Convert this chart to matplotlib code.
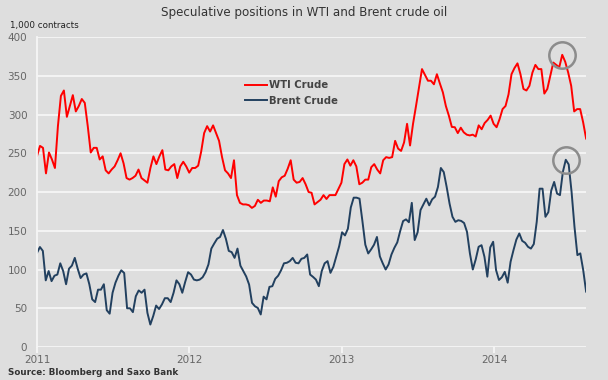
import numpy as np
import pandas as pd
import matplotlib
matplotlib.use("Agg")
import matplotlib.pyplot as plt
import matplotlib.dates as mdates

# weekly speculative positions, 1,000 contracts
wti = [246.6, 259.5, 257, 224, 251, 242, 231, 285, 324, 331, 297, 311, 325, 304, 311, 320,
       315, 285, 251, 257, 257, 242, 246, 228, 224, 229, 233, 241, 250, 237, 218, 216,
       218, 221, 229, 218, 215, 212, 231, 246, 236, 246, 254, 229, 228, 233, 236, 218,
       233, 239, 233, 225, 231, 231, 234, 252, 276, 285, 278, 286,
       276, 266, 245, 228, 224, 218, 241, 196, 186, 184, 184, 183, 179.5, 182, 190, 186,
       189, 189, 188, 206, 194, 214, 219, 221, 230, 241, 216, 212, 213, 218, 210, 200,
       199, 184,
       187, 190, 196, 191, 196, 196, 196, 204, 212, 236, 242, 234, 241, 233, 210, 212,
       216, 216, 232, 236, 229, 224, 241, 245, 244, 245, 266, 256, 253, 264, 288, 260, 288,
       311, 335, 358.6, 351, 343.6, 343.6, 339, 352, 340, 328.6, 311, 298.6, 284, 283.6,
       276, 283, 277, 274, 273, 274, 271.6, 286, 281, 289, 293, 298.6, 288, 283.6, 294,
       307, 311,
       326, 352, 360, 366, 352, 333, 331, 337, 354, 364, 358.6, 358.6, 327, 333, 350, 367,
       364, 361, 377, 368, 354, 337, 304, 307, 307, 290, 269]

brent = [121.6, 129, 124, 86, 98, 85, 92, 93.5, 108, 98, 81, 101, 105, 115, 101, 89,
         93.5, 95, 81, 61.5, 58, 74, 74, 81, 47.5, 43, 70, 83, 92, 99, 95.5, 50,
         50, 45, 65.5, 73, 70, 74, 44, 29, 40, 53.5, 49, 55, 63, 63, 58, 70,
         86, 81, 70, 84, 96.5, 93.5, 87, 86, 87, 90, 96.5, 106.5, 127, 133.6, 139.7, 142,
         151, 139.7, 124, 122.4, 115, 127, 105, 98, 91, 80.6, 57, 52.6, 50.4, 42, 65, 61.5,
         77.6, 78.5, 88, 92, 99, 108, 108.7, 110.8, 115, 108.7, 108, 113.8,
         115, 119.4, 93.5, 90.5, 87, 78.5, 98, 108, 110.8, 95.7, 103.5, 117, 130, 148, 144,
         152.6, 180, 192.7, 192.7, 191.4, 162.5, 132, 120.7, 126, 132, 142, 117, 108, 100,
         106.5, 119.4, 128, 135, 149.6, 162.5, 164.7, 161, 186, 138, 148, 176.7, 184, 191.4,
         182.8, 190.5, 194,
         206.5, 231, 225.7, 206.5, 185, 168, 161.5, 163.6, 162.7, 160, 148.6, 120.8, 100,
         113, 129.3, 131.4, 116.5, 90.8, 128.5, 135.8, 99.3, 86.5, 90, 97, 83,
         110, 125, 138.7, 146.5, 137, 134.5, 129.3, 127, 132.9, 161.5, 204.3, 204.3, 168,
         174, 202, 213, 198, 196, 226, 241.6, 235.6, 200, 155, 118.6, 120.8, 99.3, 71.5]

start, end = "2011-01-01", "2014-08-10"
wti_dates = pd.date_range(start, end, periods=len(wti))
brent_dates = pd.date_range(start, end, periods=len(brent))

bg = "#dedede"
plt.rcParams["font.family"] = "DejaVu Sans"

fig = plt.figure(figsize=(6.08, 3.8), dpi=100, facecolor=bg)
ax = fig.add_axes([0.0609, 0.0868, 0.9031, 0.8158], facecolor=bg)

ax.plot(wti_dates, wti, color="#ff0000", lw=1.4, label="WTI Crude")
ax.plot(brent_dates, brent, color="#22405f", lw=1.4, label="Brent Crude")

# grey rings round the latest peaks
for d, v in ((wti_dates, wti), (brent_dates, brent)):
    i = int(np.argmax(v))
    ax.plot(d[i], v[i], marker="o", ms=19, mfc="none", mec="#8c8c8c", mew=1.8)

ax.set_ylim(0, 400)
ax.set_yticks(range(0, 401, 50))
ax.set_xlim(pd.Timestamp(start), pd.Timestamp(end))
ax.xaxis.set_major_locator(mdates.YearLocator())
ax.xaxis.set_major_formatter(mdates.DateFormatter("%Y"))
ax.grid(axis="y", color="#f6f6f6", lw=1.3)
ax.set_axisbelow(True)
for s in ("top", "right", "bottom"):
    ax.spines[s].set_visible(False)
ax.spines["left"].set_color("#f6f6f6")
ax.spines["left"].set_linewidth(1.3)
ax.tick_params(axis="y", length=0, labelsize=7.5, labelcolor="#666666", pad=7)
ax.tick_params(axis="x", length=4, width=1.3, color="#f6f6f6", labelsize=7.5,
               labelcolor="#666666", pad=2)

leg = ax.legend(loc="upper left", bbox_to_anchor=(0.362, 0.89), frameon=False,
                handlelength=2.2, handletextpad=0.2, labelspacing=0.55,
                prop={"size": 7.3, "weight": "bold"})
for t in leg.get_texts():
    t.set_color("#444444")

fig.text(0.5, 0.966, "Speculative positions in WTI and Brent crude oil",
         ha="center", va="center", fontsize=8.6, color="#333333")
fig.text(0.016, 0.933, "1,000 contracts", ha="left", va="center", fontsize=6.3,
         color="#222222")
fig.text(0.013, 0.02, "Source: Bloomberg and Saxo Bank", ha="left", va="center",
         fontsize=6.3, fontweight="bold", color="#333333")

fig.savefig("out.png", dpi=100, facecolor=bg)
